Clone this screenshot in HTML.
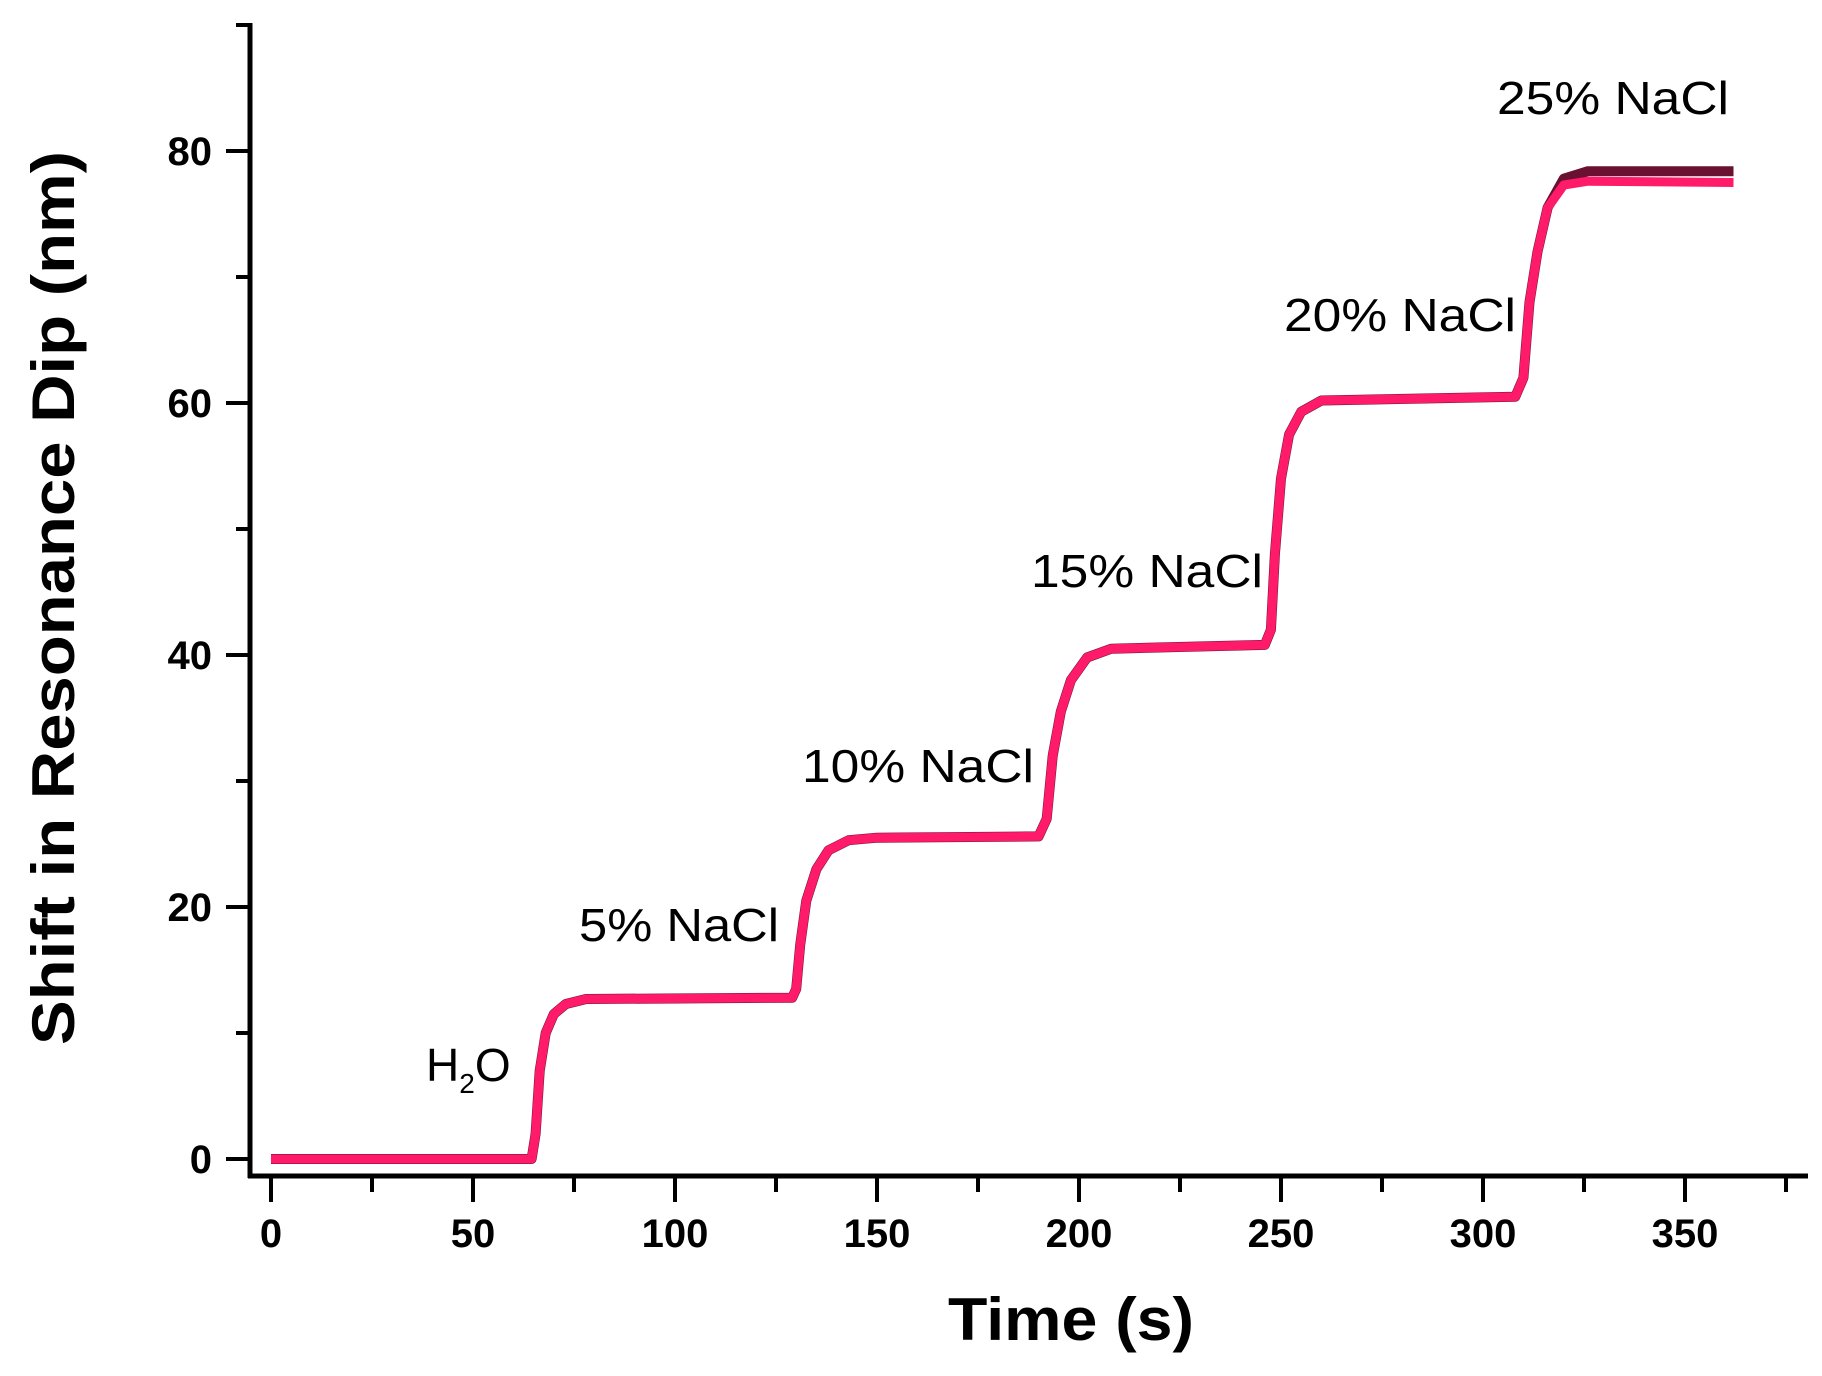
<!DOCTYPE html>
<html><head><meta charset="utf-8"><style>
html,body{margin:0;padding:0;background:#fff;}
svg{display:block;}
</style></head><body>
<svg id="chart" width="1822" height="1376" xmlns="http://www.w3.org/2000/svg" font-family="Liberation Sans, Arial, sans-serif">
<g id="axes"></g>
<g id="series"></g>
<g id="labels"></g>
</svg>
<script>
const timeS = [0,64.5,65.5,66.5,68,70,73,78,129,130,131,132.5,135,138,143,150,190,192,193.5,195.5,198,202,208,246,247.5,248.5,250,252,255,260,308,310,311.5,313.5,316,320,326,362];
const shiftNm = [0,0,2,7,10,11.5,12.3,12.7,12.8,13.5,17,20.5,23,24.5,25.3,25.5,25.6,27,32,35.5,38,39.8,40.5,40.8,42,48,54,57.5,59.3,60.2,60.5,62,68,72,75.5,77.8,78.4,78.4];
const shiftNm2 = [0,0,2,7,10,11.5,12.3,12.7,12.8,13.5,17,20.5,23,24.5,25.3,25.5,25.6,27,32,35.5,38,39.8,40.5,40.8,42,48,54,57.5,59.3,60.2,60.5,62,68,72,75.5,77.3,77.6,77.5];
const xTicks = [0,50,100,150,200,250,300,350];
const yTicks = [0,20,40,60,80];
const annotations = [["H2O",65,8],["5% NaCl",70,19],["10% NaCl",130,32],["15% NaCl",192,47],["20% NaCl",252,70],["25% NaCl",303,88]];

const NS="http://www.w3.org/2000/svg";
const X = t => 271 + t*(1685-271)/350;
const Y = v => 1159 - v*(1159-151)/80;
function mk(tag, attrs, parent){const e=document.createElementNS(NS,tag);for(const k in attrs)e.setAttribute(k,attrs[k]);parent.appendChild(e);return e;}
const axes=document.getElementById('axes'), series=document.getElementById('series'), labels=document.getElementById('labels');

let a=mk('line',{x1:250,y1:23,x2:250,y2:1178,stroke:'#000','stroke-width':5},axes);


a=mk('line',{x1:248,y1:1176,x2:1808,y2:1176,stroke:'#000','stroke-width':5},axes);


for(let v=0; v<=90; v+=10){
  const major = v%20===0;
  const t=mk('line',{x1:major?226:236,y1:Y(v),x2:250,y2:Y(v),stroke:'#000','stroke-width':4},axes);
  
  
}
for(let s=0; s<=375; s+=25){
  const major = s%50===0;
  const t=mk('line',{x1:X(s),y1:1176,x2:X(s),y2:major?1202:1192,stroke:'#000','stroke-width':4},axes);
  
  
}
yTicks.forEach(v=>{
  const t=mk('text',{x:212,y:Y(v)+14,'text-anchor':'end','font-size':40,'font-weight':'bold'},axes);
  t.textContent=v;
  
  
});
xTicks.forEach(v=>{
  const t=mk('text',{x:X(v),y:1247,'text-anchor':'middle','font-size':40,'font-weight':'bold'},axes);
  t.textContent=v;
  
  
});
let tt=mk('text',{x:1071,y:1340,'text-anchor':'middle','font-size':60,'font-weight':'bold',textLength:246,lengthAdjust:'spacingAndGlyphs'},axes);
tt.textContent='Time (s)';


tt=mk('text',{x:0,y:0,'text-anchor':'middle','font-size':60,'font-weight':'bold',textLength:894,lengthAdjust:'spacingAndGlyphs',transform:'translate(74,598) rotate(-90)'},axes);
tt.textContent='Shift in Resonance Dip (nm)';



function path(vals){return timeS.map((t,i)=>(i?'L':'M')+X(t).toFixed(1)+','+Y(vals[i]).toFixed(1)).join(' ');}
let p=mk('path',{d:path(shiftNm),fill:'none',stroke:'#6a1030','stroke-width':10,'stroke-linejoin':'round'},series);


p=mk('path',{d:path(shiftNm2),fill:'none',stroke:'#ff1a6a','stroke-width':9,'stroke-linejoin':'round'},series);



const pos = [[426,1081,null],[579,941,200],[802,782,232],[1031,587,232],[1284,331,232],[1497,114,232]];
annotations.forEach((an,i)=>{
  const [x,y,w]=pos[i];
  const t=mk('text',{x:x,y:y,'font-size':46},labels);
  if(w){t.setAttribute('textLength',w);t.setAttribute('lengthAdjust','spacingAndGlyphs');t.textContent=an[0];}
  else{
    t.appendChild(document.createTextNode('H'));
    const s=mk('tspan',{'font-size':28,dy:12},t);s.textContent='2';
    const o=mk('tspan',{dy:-12},t);o.textContent='O';
  }
  
  
});
</script>
</body></html>
